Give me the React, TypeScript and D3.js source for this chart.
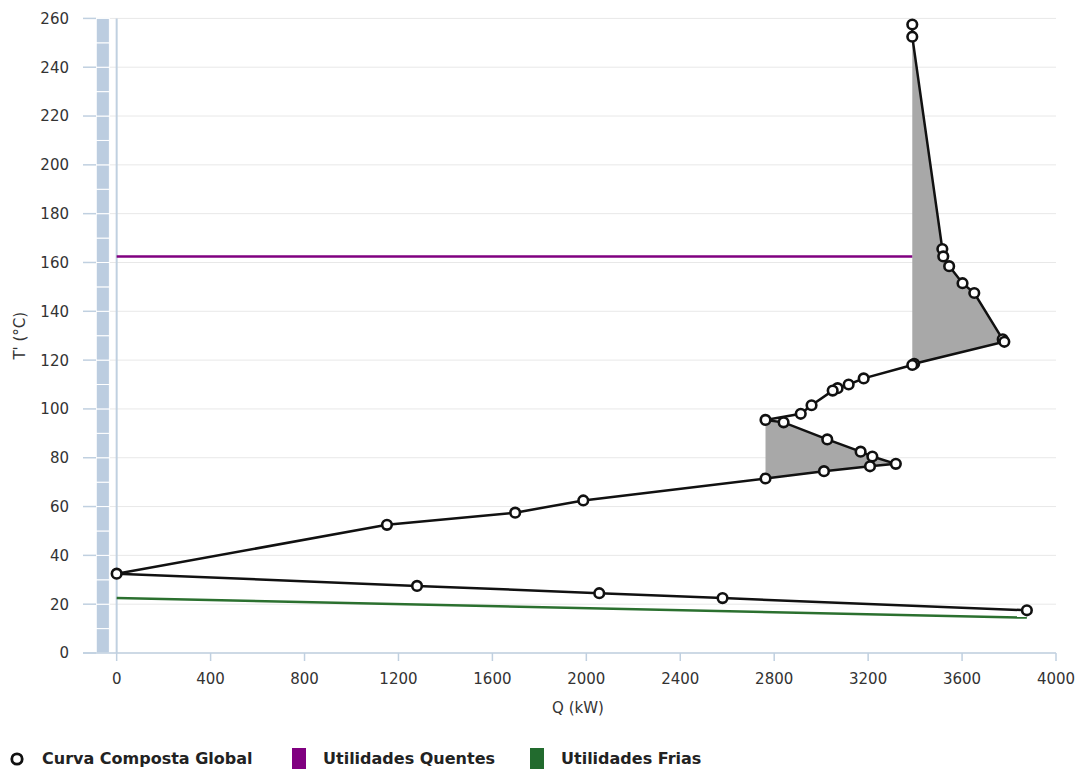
import React from "react";
import * as d3 from "d3";

// Curva Composta Global (grand composite curve)
const curveQ = [3388, 3388, 3516, 3520, 3545, 3602, 3652, 3773, 3780, 3396, 3388, 3181, 3117, 3070, 3049, 2959, 2913, 2763, 2840, 3026, 3168, 3218, 3318, 3208, 3012, 2763, 1987, 1697, 1151, 0, 1279, 2055, 2580, 3876];
const curveT = [257.5, 252.5, 165.5, 162.5, 158.5, 151.5, 147.5, 128.5, 127.5, 118.5, 118, 112.5, 110, 108.5, 107.5, 101.5, 98, 95.5, 94.5, 87.5, 82.5, 80.5, 77.5, 76.5, 74.5, 71.5, 62.5, 57.5, 52.5, 32.5, 27.5, 24.5, 22.5, 17.5];
// pockets (index ranges into the curve)
const pocketRanges: [number, number][] = [[1, 10], [17, 25]];

// Utilidades Quentes
const hotQ = [0, 3388];
const hotT = [162.5, 162.5];
// Utilidades Frias
const coldQ = [0, 3876];
const coldT = [22.5, 14.5];

// left temperature strip (10 °C cells)
const stripEdges = [0, 10, 20, 30, 40, 50, 60, 70, 80, 90, 100, 110, 120, 130, 140, 150, 160, 170, 180, 190, 200, 210, 220, 230, 240, 250, 260];
const stripQ = [-87, -31];

const xTicks = [0, 400, 800, 1200, 1600, 2000, 2400, 2800, 3200, 3600, 4000];
const yTicks = [0, 20, 40, 60, 80, 100, 120, 140, 160, 180, 200, 220, 240, 260];

const W = 1078, H = 770;
const plot = { left: 96, right: 1056, top: 18.4, bottom: 653 };
const font = "DejaVu Sans, sans-serif";
const axisColor = "#c0d0e0";

export default function App() {
  const x = d3.scaleLinear().domain([-88, 4000]).range([plot.left, plot.right]);
  const y = d3.scaleLinear().domain([0, 260]).range([plot.bottom, plot.top]);

  const pts = curveQ.map((q, i) => [q, curveT[i]] as [number, number]);
  const line = d3.line<[number, number]>().x(d => x(d[0])).y(d => y(d[1]));
  const curvePath = line(pts) || "";
  const pockets = pocketRanges.map(([a, b]) => (line(pts.slice(a, b + 1)) || "") + "Z");
  const hotPath = line(hotQ.map((q, i) => [q, hotT[i]] as [number, number])) || "";
  const coldPath = line(coldQ.map((q, i) => [q, coldT[i]] as [number, number])) || "";

  return (
    <svg width={W} height={H} style={{ position: "absolute", left: 0, top: 0, background: "#fff" }} fontFamily={font}>
      {/* grid */}
      {yTicks.map(t => (
        <line key={"g" + t} x1={plot.left} x2={plot.right} y1={y(t)} y2={y(t)} stroke="#e8e8e8" strokeWidth={1} />
      ))}
      {/* strip */}
      {stripEdges.slice(0, -1).map((e, i) => (
        <rect key={"s" + e} x={x(stripQ[0])} width={x(stripQ[1]) - x(stripQ[0])} y={y(stripEdges[i + 1])} height={y(e) - y(stripEdges[i + 1])} fill="#bccde0" stroke="#fff" strokeWidth={1} />
      ))}
      {/* Q=0 plot line */}
      <line x1={x(0)} x2={x(0)} y1={plot.top} y2={plot.bottom} stroke={axisColor} strokeWidth={2} />
      {/* axes */}
      <line x1={83} x2={plot.right} y1={plot.bottom} y2={plot.bottom} stroke={axisColor} strokeWidth={1.5} />
      {yTicks.map(t => (
        <g key={"yt" + t}>
          <line x1={83} x2={plot.left} y1={y(t)} y2={y(t)} stroke={axisColor} strokeWidth={1.5} />
          <text x={69} y={y(t)} dy="0.36em" textAnchor="end" fontSize={15} fill="#333">{t}</text>
        </g>
      ))}
      {xTicks.map(t => (
        <g key={"xt" + t}>
          <line x1={x(t)} x2={x(t)} y1={plot.bottom} y2={plot.bottom + 8} stroke={axisColor} strokeWidth={1.5} />
          <text x={x(t)} y={684} textAnchor="middle" fontSize={15} fill="#333">{t}</text>
        </g>
      ))}
      <text x={578} y={713} textAnchor="middle" fontSize={15} fill="#333">Q (kW)</text>
      <text transform={`translate(25,${(plot.top + plot.bottom) / 2}) rotate(-90)`} textAnchor="middle" fontSize={15} fill="#333">T' (°C)</text>

      {/* pockets */}
      {pockets.map((p, i) => (
        <path key={"p" + i} d={p} fill="#a8a8a8" stroke="none" />
      ))}
      {/* utilities */}
      <path d={hotPath} fill="none" stroke="#800080" strokeWidth={2.5} />
      <path d={coldPath} fill="none" stroke="#2b702f" strokeWidth={2.5} />
      {/* curve */}
      <path d={curvePath} fill="none" stroke="#111" strokeWidth={2.5} />
      {pts.map((d, i) => (
        <circle key={"c" + i} cx={x(d[0])} cy={y(d[1])} r={4.8} fill="#fff" stroke="#111" strokeWidth={2.6} />
      ))}

      {/* legend */}
      <circle cx={17} cy={759} r={5.2} fill="#fff" stroke="#111" strokeWidth={2.8} />
      <text x={42} y={764} fontSize={16} fontWeight="bold" fill="#222">Curva Composta Global</text>
      <rect x={292} y={748} width={14} height={21} fill="#800080" />
      <text x={323} y={764} fontSize={16} fontWeight="bold" fill="#222">Utilidades Quentes</text>
      <rect x={530} y={748} width={14} height={21} fill="#226b2e" />
      <text x={561} y={764} fontSize={16} fontWeight="bold" fill="#222">Utilidades Frias</text>
    </svg>
  );
}
